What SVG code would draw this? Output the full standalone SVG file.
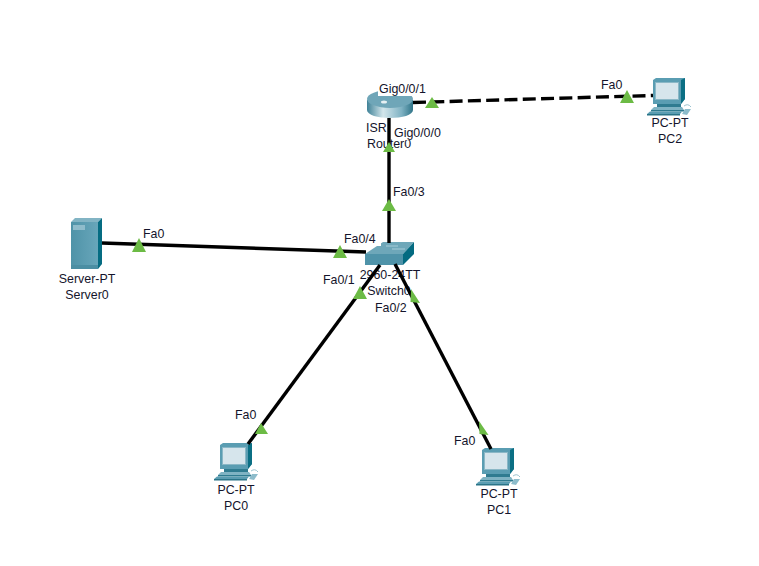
<svg xmlns="http://www.w3.org/2000/svg" width="759" height="566" viewBox="0 0 759 566">
<style>
text{font-family:"Liberation Sans",Arial,sans-serif;font-size:12.4px;fill:#14142b}
.m{text-anchor:middle}
.bg{fill:#fff}
.link{stroke:#000;stroke-width:3.4;fill:none}
.tri{fill:#6cbb45}
</style>
<defs>
<linearGradient id="body" x1="0" y1="0" x2="1" y2="0"><stop offset="0" stop-color="#4f93a8"/><stop offset="1" stop-color="#68a6ba"/></linearGradient>
<linearGradient id="cyl" x1="0" y1="0" x2="1" y2="0"><stop offset="0" stop-color="#3f8297"/><stop offset=".35" stop-color="#d3e6ec"/><stop offset=".75" stop-color="#7fb2c3"/><stop offset="1" stop-color="#2f7488"/></linearGradient>
<g id="pc">
<path d="M0 2L3 0H32V21L28 26H0Z" fill="#5a9db2"/>
<path d="M28 2L32 0V21L28 26Z" fill="#0b6f84"/>
<rect x="2.500" y="4.500" width="23" height="17" fill="#d6e5ec" stroke="#8ab7c6"/>
<path d="M4 26H28V29H4Z" fill="#2f7b90"/>
<path d="M1 29H29L31 32H-2Z" fill="#7fb3c3"/>
<path d="M-2 32H31V33.500H-2Z" fill="#2f7b90"/>
<path d="M-3 33.500H29L27 36H-6Z" fill="#5a9db2"/>
<path d="M-6 36H27V37.500H-6Z" fill="#2a7488"/>
<path d="M29 36L32 31H38L34 37Z" fill="#8dbccb"/>
<path d="M31 28Q35 25 38 29" stroke="#9cc4d0" fill="none"/>
</g>
</defs>
<rect width="759" height="566" fill="#fff"/>
<g id="server0">
<path d="M71 222L75 218H102L98 222Z" fill="#82b4c4"/>
<rect x="71" y="222" width="27" height="47" fill="url(#body)"/>
<path d="M98 222L102 218V264L98 269Z" fill="#056c82"/>
<rect x="73" y="225" width="12" height="5" fill="#8fbccb"/>
<rect x="71" y="265" width="27" height="4" fill="#4b8ea3"/>
<text class="m" x="87" y="283">Server-PT</text>
<text class="m" x="87" y="299">Server0</text>
</g>
<g id="pc0">
<use href="#pc" x="220" y="443"/>
<text class="m" x="236" y="494">PC-PT</text>
<text class="m" x="236" y="510">PC0</text>
</g>
<g id="pc1">
<use href="#pc" x="482" y="448"/>
<text class="m" x="499" y="498">PC-PT</text>
<text class="m" x="499" y="514">PC1</text>
</g>
<g id="pc2">
<use href="#pc" x="653" y="78"/>
<text class="m" x="670" y="127">PC-PT</text>
<text class="m" x="670" y="143">PC2</text>
</g>
<g id="router0">
<path d="M367 100V110C367 115 378 118 390 118S413 115 413 110V100Z" fill="url(#cyl)"/>
<ellipse cx="390" cy="99" rx="23" ry="9" fill="#6fa6b8"/>
<ellipse cx="384" cy="102" rx="3" ry="1.500" fill="#e6f0f3"/>
<text x="366" y="132">ISR</text>
<text x="367" y="148">Router0</text>
</g>
<g id="switch0">
<path d="M365 254L383 242H414L403 254Z" fill="#6ea7b9"/>
<path d="M365 254H403V265H365Z" fill="#4f93a9"/>
<path d="M403 254L414 242V254L403 265Z" fill="#046b81"/>
<path d="M386 246H398M392 249H405" stroke="#a8cdd9"/>
<text class="m" x="390" y="279">2960-24TT</text>
<text class="m" x="389" y="295">Switch0</text>
</g>
<g id="connectors">
<path class="link" d="M389 118V243"/>
<path class="link" d="M413 102.500L653 95.500" stroke-dasharray="13 5.300"/>
<path class="link" d="M102 243L366 252"/>
<path class="link" d="M380 265L248 444"/>
<path class="link" d="M395 264L491 449"/>
</g>
<g id="labels">
<rect class="bg" x="378" y="82" width="52" height="14"/>
<text x="379" y="93">Gig0/0/1</text>
<rect class="bg" x="393" y="126" width="52" height="14"/>
<text x="394" y="137">Gig0/0/0</text>
<rect class="bg" x="392" y="185" width="36" height="14"/>
<text x="393" y="196">Fa0/3</text>
<rect class="bg" x="343" y="232" width="38" height="14"/>
<text x="344" y="243">Fa0/4</text>
<text x="323" y="284">Fa0/1</text>
<text x="375" y="312">Fa0/2</text>
<text x="143" y="238">Fa0</text>
<text x="601" y="89">Fa0</text>
<text x="235" y="419">Fa0</text>
<text x="454" y="445">Fa0</text>
</g>
<g id="markers">
<path class="tri" d="M432 97L439 108H425Z"/>
<path class="tri" d="M627 90L634 103H620Z"/>
<path class="tri" d="M389 142L395 152H383Z"/>
<path class="tri" d="M389 199L396 211H382Z"/>
<path class="tri" d="M340 245L347 258H333Z"/>
<path class="tri" d="M139 238L146 252H132Z"/>
<path class="tri" d="M360 286L367 299H353Z"/>
<path class="tri" d="M261 423L268 434H255Z"/>
<path class="tri" d="M411 289L420 303L410.500 302Z"/>
<path class="tri" d="M479 421L488.500 435L479.500 434Z"/>
</g>
</svg>
